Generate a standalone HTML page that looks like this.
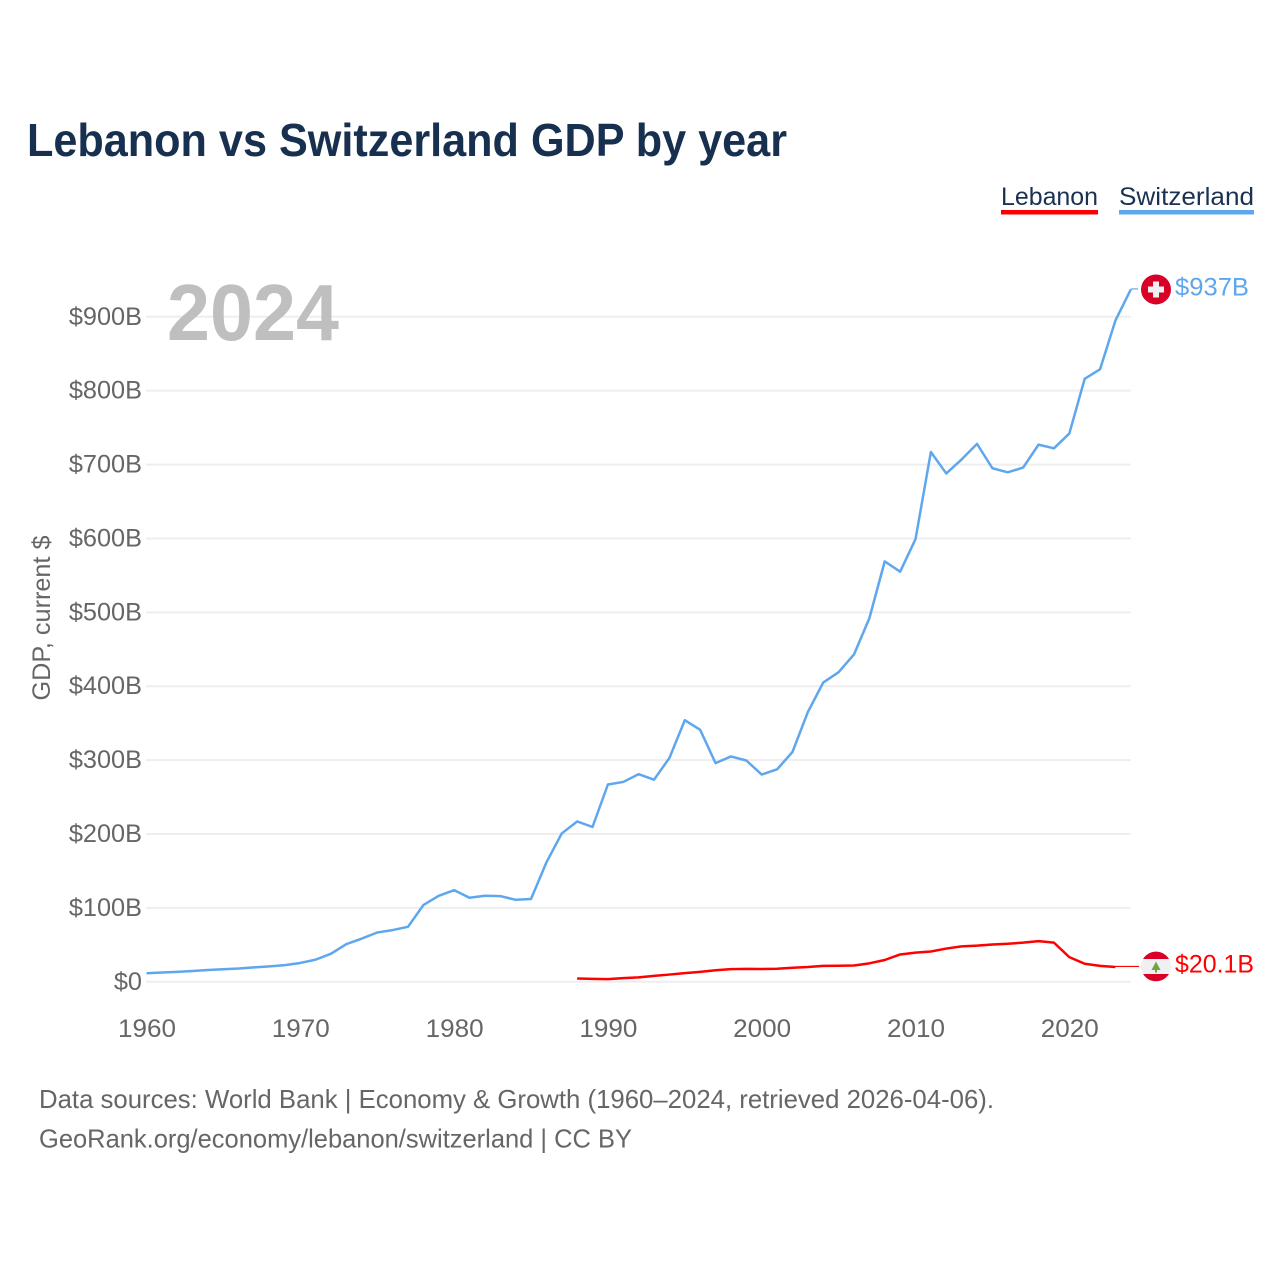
<!DOCTYPE html>
<html lang="en">
<head>
<meta charset="utf-8">
<title>Lebanon vs Switzerland GDP by year</title>
<style>
html,body{margin:0;padding:0;background:#fff;}
svg{display:block;font-family:"Liberation Sans",sans-serif;}
</style>
</head>
<body>
<svg id="chart" width="1280" height="1280" viewBox="0 0 1280 1280" xmlns="http://www.w3.org/2000/svg">
  <rect x="0" y="0" width="1280" height="1280" fill="#ffffff"/>
  <text x="27" y="156" font-size="46" font-weight="700" fill="#18304f" textLength="760" lengthAdjust="spacingAndGlyphs">Lebanon vs Switzerland GDP by year</text>

  <g>
    <g>
      <text x="1001" y="205" font-size="25" fill="#1a3152" textLength="97" lengthAdjust="spacingAndGlyphs">Lebanon</text>
      <rect x="1001" y="210" width="97" height="4.5" fill="#ff0000"/>
    </g>
    <g>
      <text x="1119" y="205" font-size="25" fill="#1a3152" textLength="135" lengthAdjust="spacingAndGlyphs">Switzerland</text>
      <rect x="1119" y="210" width="135" height="4.5" fill="#5ea7ee"/>
    </g>
  </g>

  <g id="grid"></g>
  <g id="y-ticks"></g>
  <g id="x-ticks"></g>

  <text x="167" y="340" font-size="80" font-weight="700" fill="#bfbfbf" textLength="172" lengthAdjust="spacingAndGlyphs">2024</text>
  <text transform="translate(50 618) rotate(-90)" text-anchor="middle" font-size="25" fill="#666666" textLength="165" lengthAdjust="spacingAndGlyphs">GDP, current $</text>

  <g id="series"></g>

  <g id="flag-switzerland">
    <circle cx="0" cy="0" r="15" fill="#d80027"/>
    <path d="M-3 -8H3V-3H8V3H3V8H-3V3H-8V-3H-3Z" fill="#f0f0f0"/>
  </g>
  <g id="flag-lebanon">
    <circle cx="0" cy="0" r="15" fill="#f0f0f0"/>
    <path d="M-12.9 -7.5A15 15 0 0 1 12.9 -7.5Z" fill="#d80027"/>
    <path d="M-12.9 7.5A15 15 0 0 0 12.9 7.5Z" fill="#d80027"/>
    <path d="M0 -5L4.5 3.5H1V6H-1V3.5H-4.5Z" fill="#6da544"/>
  </g>
  <text id="label-switzerland" x="1175" font-size="25" fill="#5ea7ee" textLength="74" lengthAdjust="spacingAndGlyphs"></text>
  <text id="label-lebanon" x="1175" font-size="25" fill="#ff0000" textLength="79" lengthAdjust="spacingAndGlyphs"></text>

  <text x="39" y="1108" font-size="26" fill="#666666" textLength="955" lengthAdjust="spacingAndGlyphs">Data sources: World Bank | Economy &amp; Growth (1960–2024, retrieved 2026-04-06).</text>
  <a><text x="39" y="1147.5" font-size="26" fill="#666666" textLength="593" lengthAdjust="spacingAndGlyphs">GeoRank.org/economy/lebanon/switzerland | CC BY</text></a>
</svg>

<script>
var years = [1960,1961,1962,1963,1964,1965,1966,1967,1968,1969,1970,1971,1972,1973,1974,1975,1976,1977,1978,1979,1980,1981,1982,1983,1984,1985,1986,1987,1988,1989,1990,1991,1992,1993,1994,1995,1996,1997,1998,1999,2000,2001,2002,2003,2004,2005,2006,2007,2008,2009,2010,2011,2012,2013,2014,2015,2016,2017,2018,2019,2020,2021,2022,2023,2024];
var switzerlandValues = [11.5,12.5,13.5,14.6,16,17,18,19.5,20.8,22.5,25.5,30,38,51,58.5,66.7,70,74.4,103.8,116.4,124,113.7,116.4,116,111,112,161.5,200.8,217,209.5,267,270.5,281,273.5,303,354,341,296,305,299.5,280.5,287.5,311,365,405,419,443,492,569,555,599,717,688,707,728,695,689.5,696,727,722,742,816,829,895,937];
var lebanonYears = [1988,1989,1990,1991,1992,1993,1994,1995,1996,1997,1998,1999,2000,2001,2002,2003,2004,2005,2006,2007,2008,2009,2010,2011,2012,2013,2014,2015,2016,2017,2018,2019,2020,2021,2022,2023];
var lebanonValues = [4.5,4,3.7,5,6,8,9.8,11.7,13.5,15.7,17.2,17.5,17.3,17.6,19,20,21.5,21.8,22,25,29.5,37,39.5,41,45,48,49,50.5,51.5,53,55,53,33.4,24.4,21.5,20.1];
var yTickValues = [0,100,200,300,400,500,600,700,800,900];
var yTickLabels = ["$0","$100B","$200B","$300B","$400B","$500B","$600B","$700B","$800B","$900B"];
var xTickValues = [1960,1970,1980,1990,2000,2010,2020];
var endLabels = ["$937B","$20.1B"];

function xScale(year){ return 146.5 + (year - 1960) * 15.38; }
function yScale(value){ return 981.8 - value * 0.7389; }
var NS = "http://www.w3.org/2000/svg";

function linePath(xs, vs){
  var d = "";
  for (var i = 0; i < xs.length; i++) {
    d += (i ? "L" : "M") + xScale(xs[i]).toFixed(2) + " " + yScale(vs[i]).toFixed(2);
  }
  return d;
}

var gridGroup = document.getElementById("grid");
var yGroup = document.getElementById("y-ticks");
yTickValues.forEach(function(v, i){
  var line = document.createElementNS(NS, "line");
  
  
  line.setAttribute("x1", xScale(1960) - 0.5);
  line.setAttribute("x2", xScale(2024));
  line.setAttribute("y1", yScale(v));
  line.setAttribute("y2", yScale(v));
  line.setAttribute("stroke", "#eeeeee");
  line.setAttribute("stroke-width", "2");
  gridGroup.appendChild(line);

  var t = document.createElementNS(NS, "text");
  
  
  t.setAttribute("x", 142);
  t.setAttribute("y", yScale(v) + 8);
  t.setAttribute("text-anchor", "end");
  t.setAttribute("font-size", "25.3");
  t.setAttribute("fill", "#666666");
  t.textContent = yTickLabels[i];
  yGroup.appendChild(t);
});

var xGroup = document.getElementById("x-ticks");
xTickValues.forEach(function(year){
  var t = document.createElementNS(NS, "text");
  
  
  t.setAttribute("x", xScale(year) + 0.5);
  t.setAttribute("y", 1037);
  t.setAttribute("text-anchor", "middle");
  t.setAttribute("font-size", "25");
  t.setAttribute("fill", "#666666");
  t.setAttribute("textLength", "58");
  t.setAttribute("lengthAdjust", "spacingAndGlyphs");
  t.textContent = year;
  xGroup.appendChild(t);
});

var seriesGroup = document.getElementById("series");

var swissLine = document.createElementNS(NS, "path");


swissLine.setAttribute("d", linePath(years, switzerlandValues));
swissLine.setAttribute("fill", "none");
swissLine.setAttribute("stroke", "#5ea7ee");
swissLine.setAttribute("stroke-width", "2.5");
swissLine.setAttribute("stroke-linejoin", "round");
seriesGroup.appendChild(swissLine);

var lebanonLine = document.createElementNS(NS, "path");


lebanonLine.setAttribute("d", linePath(lebanonYears, lebanonValues));
lebanonLine.setAttribute("fill", "none");
lebanonLine.setAttribute("stroke", "#ff0000");
lebanonLine.setAttribute("stroke-width", "2.5");
lebanonLine.setAttribute("stroke-linejoin", "round");
seriesGroup.appendChild(lebanonLine);

var swissEndY = yScale(switzerlandValues[switzerlandValues.length - 1]);
var lebanonEndY = yScale(lebanonValues[lebanonValues.length - 1]);
var swissEndX = xScale(years[years.length - 1]);
var lebanonEndX = xScale(lebanonYears[lebanonYears.length - 1]);

var swissLeader = document.createElementNS(NS, "line");


swissLeader.setAttribute("x1", swissEndX);
swissLeader.setAttribute("x2", 1138);
swissLeader.setAttribute("y1", swissEndY - 0.5);
swissLeader.setAttribute("y2", swissEndY - 0.5);
swissLeader.setAttribute("stroke", "#5ea7ee");
swissLeader.setAttribute("stroke-width", "1.2");
seriesGroup.appendChild(swissLeader);

var lebanonLeader = document.createElementNS(NS, "line");


lebanonLeader.setAttribute("x1", lebanonEndX);
lebanonLeader.setAttribute("x2", 1139);
lebanonLeader.setAttribute("y1", lebanonEndY - 0.5);
lebanonLeader.setAttribute("y2", lebanonEndY - 0.5);
lebanonLeader.setAttribute("stroke", "#ff0000");
lebanonLeader.setAttribute("stroke-width", "1.2");
seriesGroup.appendChild(lebanonLeader);

document.getElementById("flag-switzerland").setAttribute("transform", "translate(1156 " + swissEndY + ")");
document.getElementById("flag-lebanon").setAttribute("transform", "translate(1156 " + (lebanonEndY - 0.5) + ")");

var swissLabel = document.getElementById("label-switzerland");
swissLabel.setAttribute("y", swissEndY + 6);
swissLabel.textContent = endLabels[0];
var lebanonLabel = document.getElementById("label-lebanon");
lebanonLabel.setAttribute("y", lebanonEndY + 5.5);
lebanonLabel.textContent = endLabels[1];
</script>
</body>
</html>
